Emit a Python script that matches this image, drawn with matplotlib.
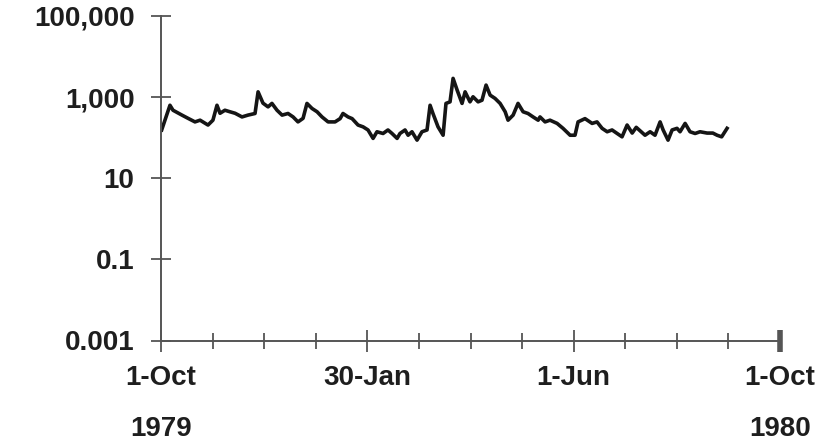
import matplotlib.pyplot as plt
from matplotlib.ticker import FixedLocator

plt.rcParams['font.family'] = ['Liberation Sans', 'DejaVu Sans']

# days since 1-Oct-1979 and the measured concentration
days = [0.4, 5.3, 7.1, 12.4, 16.0, 20.1, 23.1, 27.8, 30.7, 33.1, 34.9, 37.8, 40.8,
        43.8, 47.9, 51.4, 55.6, 57.4, 60.3, 63.3, 65.6, 68.6, 71.6, 75.1, 78.1, 81.0,
        84.0, 86.3, 89.3, 92.3, 95.2, 98.8, 102.9, 105.9, 107.6, 110.6, 113.0, 116.5,
        119.5, 122.4, 125.4, 127.7, 131.3, 134.2, 136.6, 139.6, 141.3, 144.3, 146.1,
        148.4, 151.4, 154.3, 157.3, 159.1, 160.8, 163.8, 166.8, 168.5, 170.9, 172.7,
        175.1, 178.0, 179.8, 182.7, 184.5, 187.5, 189.8, 192.2, 194.6, 197.5, 200.5,
        203.5, 205.2, 208.2, 211.1, 214.1, 217.0, 220.0, 223.0, 224.1, 227.1, 230.0,
        234.2, 237.7, 241.9, 244.8, 246.6, 250.7, 254.9, 257.8, 260.8, 263.8, 266.7,
        269.7, 272.6, 275.6, 278.6, 281.0, 286.2, 289.2, 292.1, 295.1, 296.9, 299.8,
        302.2, 305.1, 306.9, 309.9, 312.8, 315.8, 318.7, 322.9, 326.3, 328.8, 331.5,
        334.7]
values = [155, 630, 475, 360, 300, 245, 270, 205, 270, 630, 400, 475, 435,
          400, 325, 360, 395, 1350, 710, 575, 700, 475, 360, 395, 325, 245,
          300, 700, 525, 435, 325, 245, 245, 295, 395, 325, 295, 205,
          185, 155, 96, 140, 127, 155, 127, 96, 127, 155, 115,
          140, 87, 140, 155, 630, 395, 185, 115, 700, 765, 2900,
          1490, 700, 1350, 765, 1020, 765, 840, 1980, 1120, 930, 700,
          435, 270, 360, 700, 435, 395, 325, 270, 325, 245, 270,
          225, 170, 115, 115, 245, 295, 225, 245, 170, 140, 155,
          127, 105, 205, 130, 180, 115, 140, 115, 245, 155, 87,
          155, 170, 140, 225, 140, 127, 140, 130, 130, 115, 105,
          170]

y_ticks = [1e-3, 1e-1, 1e1, 1e3, 1e5]
y_labels = ['0.001', '0.1', '10', '1,000', '100,000']
x_major = [0, 122, 244, 366]
x_labels = ['1-Oct\n1979', '30-Jan', '1-Jun', '1-Oct\n1980']
x_minor = [30.5 * i for i in range(13)]

axis_col = '#555555'
text_col = '#1e1e1e'

fig = plt.figure(figsize=(8.25, 4.46), dpi=100)
ax = fig.add_axes([161 / 825, 1 - 340.5 / 446, 619 / 825, 324.5 / 446])

ax.plot(days, values, color='#151515', lw=2.6, solid_joinstyle='round')

ax.set_yscale('log')
ax.set_ylim(1e-3, 1e5)
ax.set_xlim(0, 366)

ax.yaxis.set_major_locator(FixedLocator(y_ticks))
ax.yaxis.set_minor_locator(FixedLocator([]))
ax.set_yticklabels(y_labels)
ax.set_xticks(x_major)
ax.set_xticklabels(x_labels)
ax.xaxis.set_minor_locator(FixedLocator(x_minor))

for side in ['top', 'right']:
    ax.spines[side].set_visible(False)
for side in ['left', 'bottom']:
    ax.spines[side].set_color(axis_col)
    ax.spines[side].set_linewidth(1.4)

ax.tick_params(axis='y', which='major', direction='inout', length=14, width=1.3,
               color=axis_col, pad=12, labelsize=20, labelcolor=text_col)
ax.tick_params(axis='x', which='major', direction='inout', length=16, width=1.3,
               color=axis_col, pad=9.5, labelsize=20, labelcolor=text_col)
ax.tick_params(axis='x', which='minor', direction='inout', length=11, width=1.3,
               color=axis_col)
for lab in ax.get_xticklabels() + ax.get_yticklabels():
    lab.set_fontweight('bold')
for lab in ax.get_xticklabels():
    lab.set_linespacing(2.27)

# heavier cap on the last date tick
ax.xaxis.get_major_ticks()[-1].tick1line.set_markeredgewidth(4)

fig.savefig('out.png', dpi=100, facecolor='white')
